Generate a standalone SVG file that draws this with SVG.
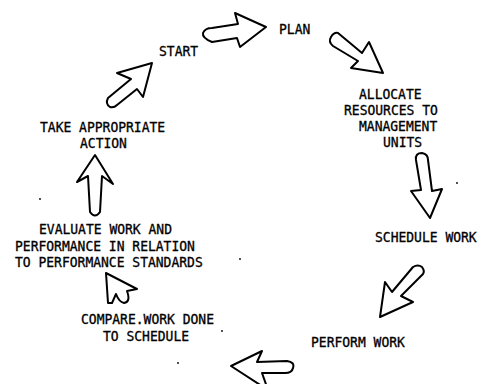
<svg xmlns="http://www.w3.org/2000/svg" width="480" height="384" viewBox="0 0 480 384">
  <style>
    .lbl { font-family: "DejaVu Sans Mono", "Liberation Mono", monospace; font-size: 13px; fill: #000; stroke: #000; stroke-width: 0.3; }
    .arrow { fill: #fff; stroke: #000; stroke-width: 2; stroke-linejoin: round; stroke-linecap: round; }
    .speck { fill: #000; }
  </style>

  <rect width="480" height="384" fill="#fff"/>

  <!-- cycle steps; each line is stretched 10% taller about its own baseline -->
  <g id="start"><text class="lbl" x="159" y="56" transform="matrix(1 0 0 1.1 0 -5.6)">START</text></g>
  <g id="plan"><text class="lbl" x="279" y="34" transform="matrix(1 0 0 1.1 0 -3.4)">PLAN</text></g>
  <g id="allocate">
    <text class="lbl" x="359" y="99" transform="matrix(1 0 0 1.1 0 -9.9)">ALLOCATE</text>
    <text class="lbl" x="344" y="115" transform="matrix(1 0 0 1.1 0 -11.5)">RESOURCES TO</text>
    <text class="lbl" x="359" y="131" transform="matrix(1 0 0 1.1 0 -13.1)">MANAGEMENT</text>
    <text class="lbl" x="383" y="147" transform="matrix(1 0 0 1.1 0 -14.7)">UNITS</text>
  </g>
  <g id="schedule"><text class="lbl" x="375" y="242" transform="matrix(1 0 0 1.1 0 -24.2)">SCHEDULE WORK</text></g>
  <g id="perform"><text class="lbl" x="311" y="347" transform="matrix(1 0 0 1.1 0 -34.7)">PERFORM WORK</text></g>
  <g id="compare">
    <text class="lbl" x="81" y="324" transform="matrix(1 0 0 1.1 0 -32.4)">COMPARE.WORK DONE</text>
    <text class="lbl" x="103" y="341" transform="matrix(1 0 0 1.1 0 -34.1)">TO SCHEDULE</text>
  </g>
  <g id="evaluate">
    <text class="lbl" x="39" y="234" transform="matrix(1 0 0 1.1 0 -23.4)">EVALUATE WORK AND</text>
    <text class="lbl" x="15" y="251" transform="matrix(1 0 0 1.1 0 -25.1)">PERFORMANCE IN RELATION</text>
    <text class="lbl" x="15" y="267" transform="matrix(1 0 0 1.1 0 -26.7)">TO PERFORMANCE STANDARDS</text>
  </g>
  <g id="action">
    <text class="lbl" x="40" y="132" transform="matrix(1 0 0 1.1 0 -13.2)">TAKE APPROPRIATE</text>
    <text class="lbl" x="80" y="148" transform="matrix(1 0 0 1.1 0 -14.8)">ACTION</text>
  </g>

  <!-- hand-drawn block arrows between steps -->
  <g id="connectors">
    <!-- start to plan -->
    <path class="arrow" d="M 212,28 L 238,24 L 235,13 L 266,27 L 240,47 L 237,38 L 212,42 Q 202,38 203,33 Q 205,28 212,28 Z"/>
    <!-- plan to allocate -->
    <path class="arrow" d="M 338,33 L 362,53 L 369,42 L 383,73 L 351,68 L 358,61 L 333,46 Q 328,42 331,37 Q 334,32 338,33 Z"/>
    <!-- allocate to schedule -->
    <path class="arrow" d="M 416,160 Q 415,153 422,153 Q 428,154 428,160 L 432,191 L 442,189 L 430,218 L 411,191 L 421,190 Z"/>
    <!-- schedule to perform -->
    <path class="arrow" d="M 413,267 Q 418,264 422,267 Q 425,271 423,274 L 401,296 L 413,302 L 380,317 L 385,282 L 392,292 Z"/>
    <!-- perform to compare -->
    <path class="arrow" d="M 231,366 L 262,351 L 257,362 L 287,361 Q 295,362 293,368 Q 292,373 285,373 L 262,373 L 268,390 Z"/>
    <!-- compare to evaluate -->
    <path class="arrow" d="M 106,273 L 137,289 L 127,291 Q 131,302 124,303 Q 119,302 116,294 L 112,303 L 108,303 Z"/>
    <!-- evaluate to action -->
    <path class="arrow" d="M 95,155 L 113,184 L 102,176 L 100,212 Q 95,219 90,212 L 88,176 L 77,182 Z"/>
    <!-- action to start -->
    <path class="arrow" d="M 152,63 L 117,73 L 131,79 L 108,98 Q 105,104 110,107 Q 114,108 117,105 L 137,89 L 143,97 Z"/>
  </g>

  <!-- stray marks -->
  <circle class="speck" cx="40" cy="199" r="0.9"/>
  <circle class="speck" cx="240" cy="259" r="0.9"/>
  <circle class="speck" cx="222" cy="331" r="0.9"/>
  <circle class="speck" cx="178" cy="363" r="0.9"/>
  <circle class="speck" cx="457" cy="183" r="0.9"/>
</svg>
